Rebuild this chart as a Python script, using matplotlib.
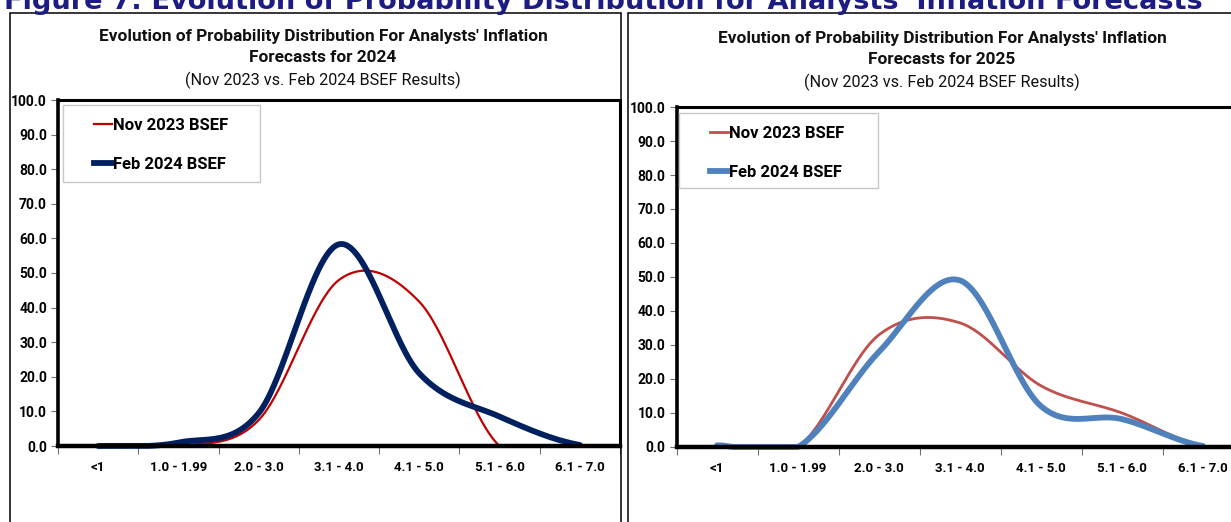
import numpy as np
import matplotlib
matplotlib.use("Agg")
import matplotlib.pyplot as plt
from matplotlib.patches import Rectangle
from matplotlib.lines import Line2D

W, H = 1231, 522

categories = ['<1', '1.0 - 1.99', '2.0 - 3.0', '3.1 - 4.0', '4.1 - 5.0', '5.1 - 6.0', '6.1 - 7.0']

# share of analysts (%) per inflation range
nov_2023_for_2024 = [np.nan, 0.0, 7.5, 48.0, 41.7, 0.0, np.nan]
feb_2024_for_2024 = [0.0, 1.0, 9.5, 58.3, 21.0, 8.5, 0.3]
nov_2023_for_2025 = [np.nan, 0.0, 33.0, 36.5, 18.0, 10.0, 0.3]
feb_2024_for_2025 = [0.5, 0.0, 28.0, 49.0, 12.0, 8.2, 0.3]

series_labels = ['Nov 2023 BSEF', 'Feb 2024 BSEF']

plt.rcParams['font.family'] = ['Roboto', 'DejaVu Sans']


def px_box(x0, y0, x1, y1):
    # pixel box (top-left origin) -> figure fraction [left, bottom, width, height]
    return [x0 / W, 1 - y1 / H, (x1 - x0) / W, (y1 - y0) / H]


def smooth(values, n=60):
    # Catmull-Rom curve through the category points, like a spreadsheet "smoothed line"
    x = np.arange(len(values), dtype=float)
    y = np.asarray(values, dtype=float)
    ok = ~np.isnan(y)
    x, y = x[ok], y[ok]
    m = np.zeros_like(y)
    m[1:-1] = (y[2:] - y[:-2]) / 2
    m[0] = (y[1] - y[0]) / 2
    m[-1] = (y[-1] - y[-2]) / 2
    xs, ys = [], []
    t = np.linspace(0, 1, n)
    for k in range(len(y) - 1):
        h00 = 2 * t**3 - 3 * t**2 + 1
        h10 = t**3 - 2 * t**2 + t
        h01 = -2 * t**3 + 3 * t**2
        h11 = t**3 - t**2
        xs.append(x[k] + t * (x[k + 1] - x[k]))
        ys.append(h00 * y[k] + h10 * m[k] + h01 * y[k + 1] + h11 * m[k + 1])
    return np.concatenate(xs), np.clip(np.concatenate(ys), 0, None)


fig = plt.figure(figsize=(W / 100, H / 100), dpi=100)
fig.patch.set_facecolor('white')

# panel frames
for x0, x1 in [(10, 621.5), (628, 1260)]:
    fig.add_artist(Rectangle((x0 / W, -0.1), (x1 - x0) / W, 1.1 - 12.5 / H,
                             transform=fig.transFigure, fill=False,
                             edgecolor='black', lw=1.1, zorder=3))


def draw_panel(ax, nov, feb, nov_style, feb_style, year, title_cx, title_ys, legend_box):
    for vals, style in [(nov, nov_style), (feb, feb_style)]:
        xs, ys = smooth(vals)
        ax.plot(xs, ys, clip_on=False, solid_capstyle='round', **style)

    ax.set_xlim(-0.5, len(categories) - 0.5)
    ax.set_ylim(0, 100)
    ax.set_yticks(np.arange(0, 101, 10))
    ax.set_yticklabels([f'{v:.1f}' for v in np.arange(0, 101, 10)],
                       fontweight='bold', fontsize=10)
    ax.set_xticks(np.arange(-0.5, len(categories)), labels=[])
    ax.set_xticks(np.arange(len(categories)), labels=categories, minor=True)
    ax.tick_params(axis='x', which='major', length=6, width=0.8, color='#707070', direction='out')
    ax.tick_params(axis='x', which='minor', length=0, pad=11)
    ax.tick_params(axis='y', length=5, width=0.8, color='#707070', pad=3)
    for lab in ax.get_xticklabels(minor=True):
        lab.set_fontweight('bold')
        lab.set_fontsize(9.5)
    for side, lw in [('left', 2.6), ('top', 2.2), ('right', 2.2), ('bottom', 3.2)]:
        ax.spines[side].set_linewidth(lw)
        ax.spines[side].set_color('black')

    # titles
    lines = [("Evolution of Probability Distribution For Analysts' Inflation", 'bold'),
             (f'Forecasts for {year}', 'bold'),
             ('(Nov 2023 vs. Feb 2024 BSEF Results)', 'normal')]
    texts = []
    for (txt, weight), ty in zip(lines, title_ys):
        texts.append(fig.text(title_cx / W, 1 - ty / H, txt, ha='center', va='center',
                              fontsize=10.5, fontweight=weight, color='#111111'))

    # legend
    lx0, ly0, lx1, ly1, hx = legend_box
    fig.add_artist(Rectangle((lx0 / W, 1 - ly1 / H), (lx1 - lx0) / W, (ly1 - ly0) / H,
                             transform=fig.transFigure, fill=False,
                             edgecolor='#c8c8c8', lw=1.0, zorder=2))
    handles = [Line2D([], [], **nov_style), Line2D([], [], **feb_style)]
    ax.legend(handles, series_labels, loc='upper left',
              bbox_to_anchor=(hx / W, 1 - (ly0 + 13) / H), bbox_transform=fig.transFigure,
              frameon=False, borderpad=0, borderaxespad=0, handlelength=1.1,
              handletextpad=0.05, labelspacing=1.45,
              prop={'weight': 'bold', 'size': 12})
    return texts


ax1 = fig.add_axes(px_box(58, 100, 620, 446))
ax2 = fig.add_axes(px_box(676.5, 107, 1243.5, 447))

t1 = draw_panel(ax1, nov_2023_for_2024, feb_2024_for_2024,
                dict(color='#C00000', lw=1.6), dict(color='#002060', lw=4.2),
                2024, 323, (36, 57, 80), (63, 105, 260, 182, 94))
t2 = draw_panel(ax2, nov_2023_for_2025, feb_2024_for_2025,
                dict(color='#C0504D', lw=2.0), dict(color='#4F81BD', lw=4.2),
                2025, 942, (38, 59, 82), (679, 113, 878, 188, 710))

head = fig.text(4 / W, 1 - 9 / H,
                "Figure 7: Evolution of Probability Distribution for Analysts' Inflation Forecasts",
                ha='left', va='baseline', fontsize=20, fontweight='bold',
                color='#1c1c84', family='DejaVu Sans')

# size the headings to their measured widths
fig.canvas.draw()
r = fig.canvas.get_renderer()
w = head.get_window_extent(r).width
head.set_fontsize(20 * 1201 / w)
for texts in (t1, t2):
    bw = texts[0].get_window_extent(r).width
    bold_size = 10.5 * 452 / bw
    texts[0].set_fontsize(bold_size)
    texts[1].set_fontsize(bold_size)
    rw = texts[2].get_window_extent(r).width
    texts[2].set_fontsize(10.5 * 277 / rw)

fig.savefig('out.png', dpi=100, facecolor='white')
